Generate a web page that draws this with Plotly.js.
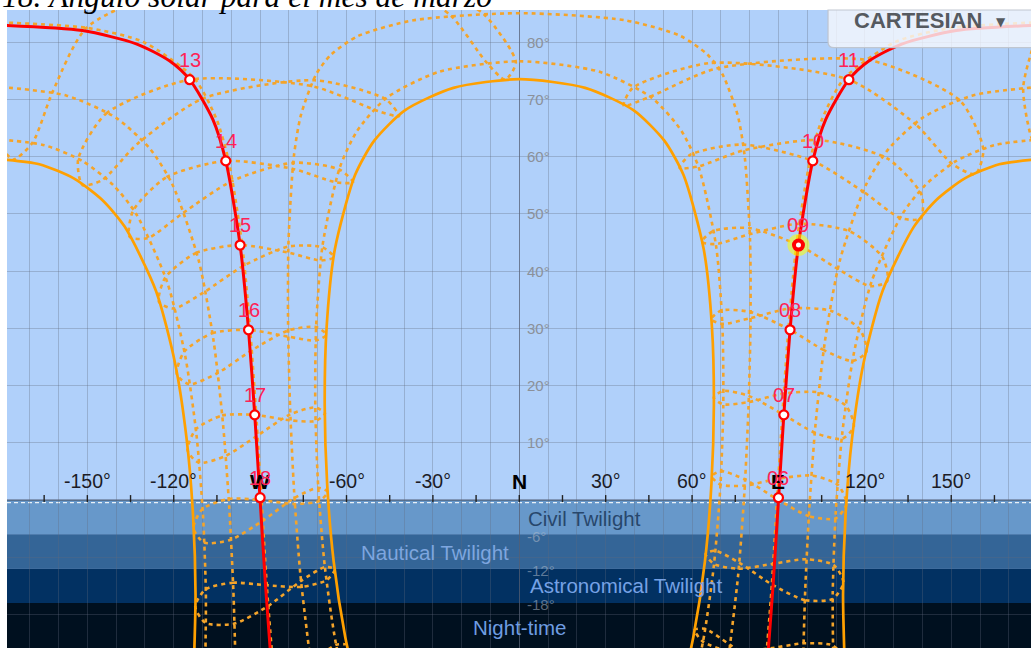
<!DOCTYPE html>
<html><head><meta charset="utf-8">
<script src="https://cdn.plot.ly/plotly-3.0.1.min.js"></script>
<style>html,body{margin:0;padding:0;background:#fff;overflow:hidden}#chart{width:1031px;height:648px}</style>
</head><body><div id="chart"></div>
<script>
// ================= DATA (azimuth deg, altitude deg) =================
// March sun path (red)
const marchAmAz  = [85.97, 88.13, 90, 91.87, 94.03, 96.95, 101.92, 106.39, 114.46, 121.5, 132.8, 151.73, 180];
const marchAmAlt = [-29.75, -14.89, 0, 14.89, 29.75, 44.57, 59.28, 66.5, 73.48, 76.77, 79.7, 82.06, 83.0];
const marchPmAz  = [-180, -151.73, -132.8, -121.5, -114.46, -106.39, -101.92, -96.95, -94.03, -91.87, -90, -88.13, -85.97];
const marchPmAlt = [83.0, 82.06, 79.7, 76.77, 73.48, 66.5, 59.28, 44.57, 29.75, 14.89, 0, -14.89, -29.75];
const hourLabels = ['06','07','08','09','10','11','13','14','15','16','17','18'];
const hourAz  = [90, 91.87, 94.03, 96.95, 101.92, 114.46, -114.46, -101.92, -96.95, -94.03, -91.87, -90];
const hourAlt = [0.4, 14.89, 29.75, 44.57, 59.28, 73.48, 73.48, 59.28, 44.57, 29.75, 14.89, 0.4];
const currentHour = '09';

// Solstice paths (solid orange)
const juneAz  = [57.55, 60.43, 64.45, 66.72, 67.57, 66.90, 64.05, 57.00, 50.30, 39.62, 22.87, 0, -22.87, -39.62, -50.30, -57.00, -64.05, -66.90, -67.57, -66.72, -64.45, -60.43, -57.55];
const juneAlt = [-30.39, -24.01, -10.79, 2.78, 16.51, 30.25, 43.82, 56.84, 62.86, 68.16, 72.05, 73.56, 72.05, 68.16, 62.86, 56.84, 43.82, 30.25, 16.51, 2.78, -10.79, -24.01, -30.39];
const decAmAz  = [113.10, 112.43, 113.28, 115.55, 119.57, 126.15, 136.99, 144.82, 154.72, 166.68, 180];
const decAmAlt = [-30.25, -16.51, -2.78, 10.79, 24.01, 36.55, 47.75, 52.45, 56.22, 58.69, 59.56];
const decPmAz  = [-180, -166.68, -154.72, -144.82, -136.99, -126.15, -119.57, -115.55, -113.28, -112.43, -113.10];
const decPmAlt = [59.56, 58.69, 56.22, 52.45, 47.75, 36.55, 24.01, 10.79, -2.78, -16.51, -30.25];

// Monthly paths (dotted)
const janNovAmAz  = [109.12, 108.84, 109.86, 112.13, 115.99, 122.32, 133.03, 141.08, 151.61, 164.85, 180];
const janNovAmAlt = [-30.53, -16.44, -2.39, 11.52, 25.13, 38.16, 50.0, 55.09, 59.23, 62.02, 63.0];
const janNovPmAz  = [-180, -164.85, -151.61, -141.08, -133.03, -122.32, -115.99, -112.13, -109.86, -108.84, -109.12];
const janNovPmAlt = [63.0, 62.02, 59.23, 55.09, 50.0, 38.16, 25.13, 11.52, -2.39, -16.44, -30.53];
const febOctAmAz  = [98.43, 99.28, 100.72, 102.88, 106.12, 111.29, 120.53, 128.27, 139.87, 157.18, 180];
const febOctAmAlt = [-30.69, -15.97, -1.31, 13.27, 27.69, 41.80, 55.24, 61.40, 66.76, 70.69, 72.2];
const febOctPmAz  = [-180, -157.18, -139.87, -128.27, -120.53, -111.29, -106.12, -102.88, -100.72, -99.28, -98.43];
const febOctPmAlt = [72.2, 70.69, 66.76, 61.40, 55.24, 41.80, 27.69, 13.27, -1.31, -15.97, -30.69];
const sepAmAz  = [85.41, 87.7, 89.5, 91.36, 93.46, 96.26, 100.97, 105.2, 112.85, 130.68, 149.93, 180];
const sepAmAlt = [-29.68, -14.82, 0.06, 14.95, 29.82, 44.66, 59.4, 66.64, 73.7, 80.1, 82.52, 83.5];
const sepPmAz  = [-180, -149.93, -130.68, -112.85, -105.2, -100.97, -96.26, -93.46, -91.36, -89.5, -87.7, -85.41];
const sepPmAlt = [83.5, 82.52, 80.1, 73.7, 66.64, 59.4, 44.66, 29.82, 14.95, 0.06, -14.82, -29.68];
const aprAugAz  = [72.68, 76.01, 78.19, 79.58, 80.29, 80.13, 78.29, 75.84, 70.54, 65.33, 55.91, 36.76, 0, -36.76, -55.91, -65.33, -70.54, -75.84, -78.29, -80.13, -80.29, -79.58, -78.19, -76.01, -72.68];
const aprAugAlt = [-27.42, -13.08, 1.44, 16.05, 30.71, 45.39, 60.03, 67.28, 74.43, 77.88, 81.13, 83.86, 85.1, 83.86, 81.13, 77.88, 74.43, 67.28, 60.03, 45.39, 30.71, 16.05, 1.44, -13.08, -27.42];
const mayJulAz  = [57.3, 63.70, 67.57, 69.84, 70.84, 70.53, 68.33, 62.38, 56.37, 46.06, 27.92, 0, -27.92, -46.06, -56.37, -62.38, -68.33, -70.53, -70.84, -69.84, -67.57, -63.70, -57.3];
const mayJulAlt = [-38.0, -25.03, -11.46, 2.42, 16.45, 30.51, 44.47, 58.05, 64.48, 70.30, 74.85, 76.7, 74.85, 70.30, 64.48, 58.05, 44.47, 30.51, 16.45, 2.42, -11.46, -25.03, -38.0];

// Hourly analemmas (Jan..Dec, closed)
const ana04Az  = [109.14, 98.34, 85.97, 73.17, 64.42, 60.83, 63.78, 72.92, 85.98, 98.76, 109.02, 113.0, 109.14];
const ana04Alt = [-31.4, -32.2, -29.75, -25.32, -22.50, -22.69, -24.76, -26.37, -26.01, -25.05, -25.46, -28.14, -31.4];
const ana05Az  = [108.86, 99.19, 88.13, 76.33, 67.99, 64.68, 67.62, 76.17, 88.14, 99.83, 109.21, 112.56, 108.86];
const ana05Alt = [-17.29, -17.49, -14.89, -10.95, -8.87, -9.43, -11.18, -12.02, -11.15, -10.35, -11.38, -14.41, -17.29];
const ana06Az  = [109.80, 100.57, 90, 78.39, 70.03, 66.81, 69.86, 78.29, 89.96, 101.55, 110.68, 113.63, 109.80];
const ana06Alt = [-3.23, -2.82, 0, 3.58, 5.04, 4.15, 2.70, 2.51, 3.73, 4.28, 2.62, -0.70, -3.23];
const ana07Az  = [111.99, 102.66, 91.87, 79.68, 70.78, 67.50, 70.83, 79.63, 91.88, 104.12, 113.52, 116.17, 111.99];
const ana07Alt = [10.69, 11.76, 14.89, 18.20, 19.07, 17.88, 16.73, 17.12, 18.62, 18.80, 16.42, 12.82, 10.69];
const ana08Az  = [115.76, 105.79, 94.03, 80.27, 70.12, 66.62, 70.49, 80.28, 94.15, 108.10, 118.27, 120.58, 115.76];
const ana08Alt = [24.31, 26.20, 29.75, 32.86, 33.12, 31.61, 30.79, 31.79, 33.48, 33.10, 29.82, 25.93, 24.31];
const ana09Az  = [121.94, 110.76, 96.95, 79.86, 67.22, 63.35, 68.21, 79.99, 97.42, 114.83, 126.18, 127.81, 121.94];
const ana09Alt = [37.38, 40.34, 44.57, 47.54, 47.0, 45.12, 44.74, 46.46, 48.30, 46.95, 42.42, 38.27, 37.38];
const ana10Az  = [132.39, 119.58, 101.92, 77.15, 59.33, 55.66, 62.05, 77.72, 103.90, 127.94, 139.72, 139.39, 132.39];
const ana10Alt = [49.29, 53.85, 59.28, 62.14, 60.34, 58.04, 58.30, 61.09, 62.93, 59.66, 53.32, 49.19, 49.29];
const ana11Az  = [150.50, 137.87, 114.46, 66.25, 39.29, 36.27, 45.33, 68.39, 121.64, 153.14, 161.14, 158.39, 150.50];
const ana11Alt = [58.68, 65.57, 73.48, 76.39, 72.0, 68.94, 70.48, 75.41, 76.86, 69.77, 61.24, 56.98, 58.68];
const ana13Az  = [-153.20, -143.45, -114.46, -71.68, -49.11, -41.76, -46.39, -71.11, -109.92, -132.46, -144.92, -151.68, -153.20];
const ana13Alt = [59.56, 67.57, 73.48, 72.32, 68.01, 67.10, 70.06, 73.37, 70.17, 62.34, 55.91, 55.06, 59.56];
const ana14Az  = [-134.15, -122.53, -101.92, -78.56, -63.49, -57.71, -62.50, -78.43, -99.81, -116.99, -129.17, -135.33, -134.15];
const ana14Alt = [50.55, 56.43, 59.28, 57.88, 55.52, 55.54, 57.78, 58.96, 55.76, 50.09, 45.74, 46.03, 50.55];
const ana15Az  = [-122.96, -112.24, -96.95, -80.15, -68.74, -64.34, -68.37, -80.14, -95.57, -109.31, -120.04, -125.14, -122.96];
const ana15Alt = [38.87, 43.19, 44.57, 43.24, 41.86, 42.46, 44.19, 44.31, 41.0, 36.39, 33.47, 34.63, 38.87];
const ana16Az  = [-116.37, -106.65, -94.03, -80.19, -70.59, -66.97, -70.54, -80.24, -92.94, -104.88, -114.60, -118.95, -116.37];
const ana16Alt = [25.91, 29.15, 29.75, 28.56, 27.89, 28.88, 30.23, 29.64, 26.15, 22.16, 20.23, 21.98, 25.91];
const ana17Az  = [-112.36, -103.21, -91.87, -79.38, -70.65, -67.48, -70.82, -79.48, -90.90, -102.05, -111.31, -115.20, -112.36];
const ana17Alt = [12.34, 14.76, 14.89, 13.91, 13.83, 15.14, 16.17, 14.98, 11.28, 7.68, 6.51, 8.71, 12.34];
const ana18Az  = [-109.99, -100.94, -90, -77.87, -69.42, -66.49, -69.79, -78.03, -89.06, -100.17, -109.49, -113.15, -109.99];
const ana18Alt = [-1.56, 0.20, 0, -0.69, -0.17, 1.42, 2.14, 0.38, -3.61, -6.93, -7.45, -4.88, -1.56];
const ana19Az  = [-108.90, -99.43, -88.13, -75.52, -66.85, -64.05, -67.49, -75.77, -87.13, -98.95, -108.94, -112.53, -108.90];
const ana19Alt = [-15.60, -14.46, -14.89, -15.18, -13.99, -12.11, -11.73, -14.13, -18.49, -21.61, -21.51, -18.62, -15.60];
const ana20Az  = [-109.10, -98.52, -85.97, -72.19, -62.98, -60.03, -63.62, -72.44, -84.84, -98.10, -109.22, -113.2, -109.10];
const ana20Alt = [-29.68, -29.17, -29.75, -29.52, -27.56, -25.33, -25.30, -28.47, -33.35, -36.33, -35.6, -32.36, -29.68];
const noonNorthAz  = [-40, -23.7, -11.3, -4.9, -1.2, -12.2, -30];
const noonNorthAlt = [90, 84.64, 76.44, 73.49, 76.52, 84.86, 90];
const noonSouthLAz  = [-120, -150.3, -162.1, -169.0, -175.8, -180];
const noonSouthLAlt = [90, 82.55, 71.3, 62.5, 59.5, 61.9];
const noonSouthRAz  = [180, 178.1, 175.0, 180.8];
const noonSouthRAlt = [61.9, 63.0, 72.1, 83.0];

// Axis labels
const xTickVals = [-150, -120, -90, -60, -30, 0, 30, 60, 90, 120, 150];
const xTickText = ['-150°', '-120°', 'W', '-60°', '-30°', 'N', '30°', '60°', 'E', '120°', '150°'];
const yTickVals = [10, 20, 30, 40, 50, 60, 70, 80];
const yTickValsBelow = [-6, -12, -18];
const horizonTickAz = [-165, -150, -135, -120, -105, -90, -75, -60, -45, -30, -15, 0, 15, 30, 45, 60, 75, 90, 105, 120, 135, 150, 165];

// Twilight bands
const bandNames  = ['Civil Twilight', 'Nautical Twilight', 'Astronomical Twilight', 'Night-time'];
const bandTop    = [0, -6, -12, -18];
const bandBottom = [-6, -12, -18, -40];
const titleText  = '18. Ángulo solar para el mes de marzo';
const buttonText = 'CARTESIAN';

// ================= STYLE / LAYOUT =================
const FONT = 'Liberation Sans, Arial, sans-serif';
const bandFill  = ['#6798ca', '#346597', '#023162', '#00101f'];
const bandFont  = ['#27476c', '#7ea6df', '#76a2e6', '#6f9de2'];
const bandLabelPos = [[22.8, -3.3], [-29.3, -9.1], [36.9, -15.0], [0, -22.2]];
const DOT   = {color: '#f4a42a', width: 2.6, dash: '4px,4px'};
const SOLID = {color: '#ffa000', width: 2.7};
const RED   = {color: '#ff0000', width: 3};
const compass = ['W', 'N', 'E'];

function line(az, alt, st) {
  return {type: 'scatter', mode: 'lines', x: az, y: alt,
    line: Object.assign({shape: 'spline', smoothing: 0.7}, st),
    hoverinfo: 'skip', showlegend: false};
}

const traces = [];
[[janNovAmAz, janNovAmAlt], [janNovPmAz, janNovPmAlt], [febOctAmAz, febOctAmAlt], [febOctPmAz, febOctPmAlt],
 [sepAmAz, sepAmAlt], [sepPmAz, sepPmAlt], [aprAugAz, aprAugAlt], [mayJulAz, mayJulAlt],
 [ana04Az, ana04Alt], [ana05Az, ana05Alt], [ana06Az, ana06Alt], [ana07Az, ana07Alt], [ana08Az, ana08Alt],
 [ana09Az, ana09Alt], [ana10Az, ana10Alt], [ana11Az, ana11Alt], [ana13Az, ana13Alt], [ana14Az, ana14Alt],
 [ana15Az, ana15Alt], [ana16Az, ana16Alt], [ana17Az, ana17Alt], [ana18Az, ana18Alt], [ana19Az, ana19Alt],
 [ana20Az, ana20Alt], [noonNorthAz, noonNorthAlt], [noonSouthLAz, noonSouthLAlt], [noonSouthRAz, noonSouthRAlt]
].forEach(p => traces.push(line(p[0], p[1], DOT)));
[[juneAz, juneAlt], [decAmAz, decAmAlt], [decPmAz, decPmAlt]].forEach(p => traces.push(line(p[0], p[1], SOLID)));
traces.push(line(marchAmAz, marchAmAlt, RED));
traces.push(line(marchPmAz, marchPmAlt, RED));
// horizon ticks
traces.push({type: 'scatter', mode: 'markers', x: horizonTickAz, y: horizonTickAz.map(() => 0.25),
  marker: {symbol: 'line-ns', size: 5, line: {color: '#222', width: 1.4}}, hoverinfo: 'skip', showlegend: false});
// hour markers
const curIdx = hourLabels.indexOf(currentHour);
const normIdx = hourLabels.map((h, i) => i).filter(i => i !== curIdx);
traces.push({type: 'scatter', mode: 'markers', x: normIdx.map(i => hourAz[i]), y: normIdx.map(i => hourAlt[i]),
  marker: {size: 9, color: '#ffffff', line: {color: '#ff0000', width: 2.2}}, hoverinfo: 'skip', showlegend: false, cliponaxis: false});
traces.push({type: 'scatter', mode: 'markers', x: [hourAz[curIdx]], y: [hourAlt[curIdx]],
  marker: {size: 22, color: 'rgba(255,255,0,0.55)'}, hoverinfo: 'skip', showlegend: false});
traces.push({type: 'scatter', mode: 'markers', x: [hourAz[curIdx]], y: [hourAlt[curIdx]],
  marker: {size: 13, color: '#ff0000', line: {color: '#ff0000', width: 0}}, hoverinfo: 'skip', showlegend: false});
traces.push({type: 'scatter', mode: 'markers', x: [hourAz[curIdx]], y: [hourAlt[curIdx]],
  marker: {size: 5, color: '#ffffff'}, hoverinfo: 'skip', showlegend: false});

const shapes = [];
bandNames.forEach((n, i) => shapes.push({type: 'rect', xref: 'paper', x0: 0, x1: 1, yref: 'y', y0: bandBottom[i], y1: bandTop[i],
  fillcolor: bandFill[i], line: {width: 0}, layer: 'below'}));
shapes.push({type: 'line', xref: 'paper', x0: 0, x1: 1, yref: 'y', y0: 0, y1: 0, line: {color: 'rgba(50,55,70,0.75)', width: 1}, layer: 'between'});
shapes.push({type: 'line', xref: 'paper', x0: 0, x1: 1, yref: 'y', y0: -0.45, y1: -0.45, line: {color: 'rgba(255,255,255,0.85)', width: 1.3, dash: '4px,3px'}, layer: 'between'});
// CARTESIAN button
const bx0 = 0.8018, bx1 = 1.01, by0 = 0.9409, by1 = 1.0, rx = 0.006, ry = 0.0095;
shapes.push({type: 'path', xref: 'paper', yref: 'paper', layer: 'above',
  path: `M ${bx0},${by1} L ${bx0},${by0 + ry} Q ${bx0},${by0} ${bx0 + rx},${by0} L ${bx1},${by0} L ${bx1},${by1} Z`,
  fillcolor: 'rgba(246,248,252,0.8)', line: {color: 'rgba(190,196,206,0.95)', width: 1.2}});

const annotations = [];
xTickVals.forEach((v, i) => {
  const isC = compass.indexOf(xTickText[i]) >= 0;
  annotations.push({xref: 'x', yref: 'y', x: v, y: 3.3, xanchor: 'center', yanchor: 'middle',
    text: isC ? '<b>' + xTickText[i] + '</b>' : xTickText[i], showarrow: false,
    font: {family: FONT, size: isC ? 21 : 19.5, color: isC ? '#000' : '#1c1c26'}});
});
yTickVals.forEach(v => annotations.push({xref: 'x', yref: 'y', x: 0, y: v, xanchor: 'left', yanchor: 'middle', xshift: 6, text: v + '°', showarrow: false,
  font: {family: FONT, size: 15, color: '#8b9099'}}));
yTickValsBelow.forEach(v => annotations.push({xref: 'x', yref: 'y', x: 0, y: v, xanchor: 'left', yanchor: 'middle', xshift: 6, yshift: -2, text: v + '°', showarrow: false,
  font: {family: FONT, size: 15, color: 'rgba(175,185,200,0.55)'}}));
bandNames.forEach((n, i) => annotations.push({xref: 'x', yref: 'y', x: bandLabelPos[i][0], y: bandLabelPos[i][1], xanchor: 'center', yanchor: 'middle', text: n, showarrow: false,
  font: {family: FONT, size: 20.5, color: bandFont[i]}}));
hourLabels.forEach((h, i) => annotations.push({xref: 'x', yref: 'y', x: hourAz[i], y: hourAlt[i], xanchor: 'center', yanchor: 'middle', yshift: 20, text: h, showarrow: false,
  font: {family: FONT, size: 20, color: '#ff2255'}}));
annotations.push({xref: 'paper', yref: 'paper', x: 0, xshift: -7, xanchor: 'left', y: 1, yanchor: 'bottom', yshift: -6,
  text: '<i>' + titleText + '</i>', showarrow: false, font: {family: 'Liberation Serif, Times New Roman, serif', size: 31.5, color: '#000'}});
annotations.push({xref: 'paper', yref: 'paper', x: 0.8896, y: 0.9843, xanchor: 'center', yanchor: 'middle', text: '<b>' + buttonText + '</b>', showarrow: false,
  font: {family: FONT, size: 22, color: '#555a60'}});
annotations.push({xref: 'paper', yref: 'paper', x: 0.9707, y: 0.9805, xanchor: 'center', yanchor: 'middle', text: '▼', showarrow: false,
  font: {family: 'DejaVu Sans, sans-serif', size: 12, color: '#555a60'}});

const layout = {
  width: 1031, height: 648, margin: {l: 7, r: 0, t: 10, b: 0},
  paper_bgcolor: '#ffffff', plot_bgcolor: '#b0d0fa', showlegend: false,
  xaxis: {range: [-177.9, 177.7], dtick: 10, tick0: 0, showticklabels: false, ticks: '', showline: false,
    gridcolor: 'rgba(95,105,125,0.32)', gridwidth: 1, zeroline: true, zerolinecolor: 'rgba(85,95,115,0.75)', zerolinewidth: 1.5, fixedrange: true},
  yaxis: {range: [-25.87, 85.66], dtick: 10, tick0: 0, showticklabels: false, ticks: '', showline: false,
    gridcolor: 'rgba(95,105,125,0.32)', gridwidth: 1, zeroline: false, fixedrange: true},
  shapes: shapes, annotations: annotations
};
Plotly.newPlot('chart', traces, layout, {staticPlot: true, displayModeBar: false});
</script>
</body></html>
